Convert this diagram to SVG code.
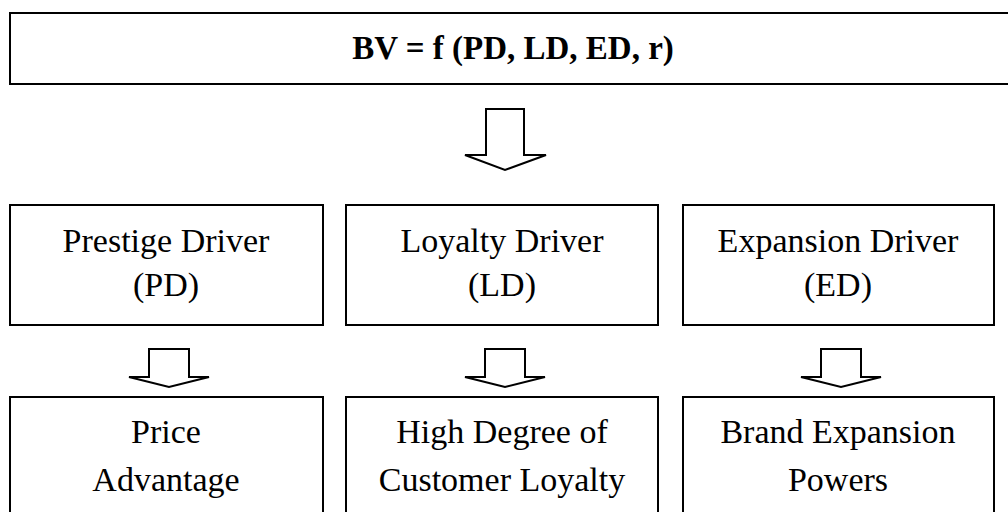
<svg xmlns="http://www.w3.org/2000/svg" width="1008" height="512" viewBox="0 0 1008 512">
<style>
.box{fill:#fff;stroke:#000;stroke-width:2}
.arr{fill:#fff;stroke:#000;stroke-width:2;stroke-linejoin:miter}
.t{font-family:"Liberation Serif","Times New Roman",serif;font-size:34px;fill:#000;text-anchor:middle}
.tb{font-family:"Liberation Serif","Times New Roman",serif;font-size:33px;font-weight:bold;fill:#000;text-anchor:middle}
</style>
<rect width="1008" height="512" fill="#fff"/>
<g id="top">
<rect class="box" x="10" y="13" width="1010" height="71" stroke-width="2.5"/>
<text class="tb" x="513" y="59">BV = f (PD, LD, ED, r)</text>
</g>
<g id="connectors">
<polygon class="arr" points="486,109 524,109 524,155 546,155 505,170 465,155 486,155"/>
<polygon class="arr" points="149,349 189,349 189,377 209,377 169,387 129,377 149,377"/>
<polygon class="arr" points="485,349 525,349 525,377 545,377 505,387 465,377 485,377"/>
<polygon class="arr" points="821,349 861,349 861,377 881,377 841,387 801,377 821,377"/>
</g>
<g id="pd">
<rect class="box" x="10" y="205" width="313" height="120"/>
<text class="t" x="166" y="252">Prestige Driver</text>
<text class="t" x="166" y="296">(PD)</text>
</g>
<g id="ld">
<rect class="box" x="346" y="205" width="312" height="120"/>
<text class="t" x="502" y="252">Loyalty Driver</text>
<text class="t" x="502" y="296">(LD)</text>
</g>
<g id="ed">
<rect class="box" x="683" y="205" width="311" height="120"/>
<text class="t" x="838" y="252">Expansion Driver</text>
<text class="t" x="838" y="296">(ED)</text>
</g>
<g id="price">
<rect class="box" x="10" y="397" width="313" height="130"/>
<text class="t" x="166" y="443">Price</text>
<text class="t" x="166" y="491">Advantage</text>
</g>
<g id="loyalty">
<rect class="box" x="346" y="397" width="312" height="130"/>
<text class="t" x="502" y="443">High Degree of</text>
<text class="t" x="502" y="491">Customer Loyalty</text>
</g>
<g id="expansion">
<rect class="box" x="683" y="397" width="311" height="130"/>
<text class="t" x="838" y="443">Brand Expansion</text>
<text class="t" x="838" y="491">Powers</text>
</g>
</svg>
